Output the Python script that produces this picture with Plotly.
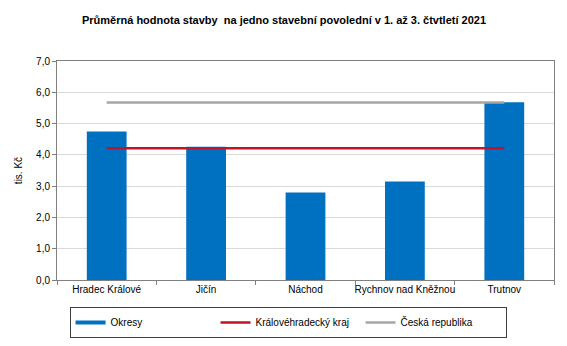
import plotly.graph_objects as go

categories = ["Hradec Králové", "Jičín", "Náchod", "Rychnov nad Kněžnou", "Trutnov"]
okresy = [4.75, 4.26, 2.80, 3.15, 5.68]
kraj = [4.21, 4.21, 4.21, 4.21, 4.21]
cr = [5.67, 5.67, 5.67, 5.67, 5.67]
y_ticks = [0, 1, 2, 3, 4, 5, 6, 7]
y_labels = ["0,0", "1,0", "2,0", "3,0", "4,0", "5,0", "6,0", "7,0"]

BLUE = "#0070C0"
RED = "#C0142A"
GREY = "#A6A6A6"
FONT = "Arial, Liberation Sans, sans-serif"

fig = go.Figure()
fig.add_trace(go.Bar(x=categories, y=okresy, marker=dict(color=BLUE, line=dict(width=0)),
                     width=0.4, showlegend=False, name="Okresy"))
fig.add_trace(go.Scatter(x=categories, y=cr, mode="lines", line=dict(color=GREY, width=2.5),
                         showlegend=False, name="Česká republika"))
fig.add_trace(go.Scatter(x=categories, y=kraj, mode="lines", line=dict(color=RED, width=2.5),
                         showlegend=False, name="Královéhradecký kraj"))
# legend entries
fig.add_trace(go.Scatter(x=[None], y=[None], mode="lines", line=dict(color=BLUE, width=4), name="Okresy"))
fig.add_trace(go.Scatter(x=[None], y=[None], mode="lines", line=dict(color=RED, width=2.5), name="Královéhradecký kraj"))
fig.add_trace(go.Scatter(x=[None], y=[None], mode="lines", line=dict(color=GREY, width=2.5), name="Česká republika"))

fig.update_layout(
    width=567, height=346,
    margin=dict(l=57, r=13, t=61, b=63),
    paper_bgcolor="white", plot_bgcolor="white",
    font=dict(family=FONT, size=10, color="#000000"),
    title=dict(text="<b>Průměrná hodnota stavby  na jedno stavební povolední v 1. až 3. čtvtletí 2021</b>",
               x=284 / 567, xref="container", xanchor="center", y=1 - 20 / 346, yanchor="middle",
               font=dict(size=11, family=FONT, color="#000000")),
    showlegend=True,
    legend=dict(orientation="h", xref="container", yref="container", x=0.508, xanchor="center",
                y=1 - 307 / 346, yanchor="top", bordercolor="#404040", borderwidth=1,
                bgcolor="white", font=dict(size=10, family=FONT),
                entrywidth=100, entrywidthmode="pixels", itemwidth=30),
    bargap=0.6,
)
fig.update_xaxes(type="category", showline=True, linecolor="#808080", linewidth=1, mirror=True,
                 ticks="outside", tickson="boundaries", ticklen=4, tickcolor="#808080",
                 showgrid=False, tickangle=0, tickfont=dict(size=10, family=FONT))
fig.update_yaxes(range=[0, 7], tickvals=y_ticks, ticktext=y_labels, showline=True,
                 linecolor="#808080", linewidth=1, mirror=True, ticks="outside", ticklen=4,
                 tickcolor="#808080", showgrid=True, gridcolor="#D9D9D9", gridwidth=1,
                 zeroline=False, tickfont=dict(size=10, family=FONT),
                 title=dict(text="tis. Kč", font=dict(size=10, family=FONT), standoff=11))

fig.write_html("out.html")
